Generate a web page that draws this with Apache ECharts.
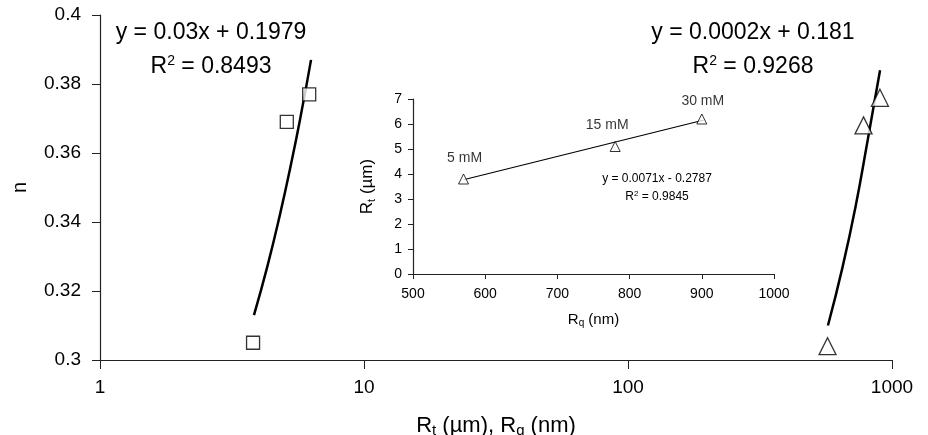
<!DOCTYPE html>
<html>
<head>
<meta charset="utf-8">
<script src="https://cdn.jsdelivr.net/npm/echarts@6/dist/echarts.min.js"></script>
<style>
  html, body { margin: 0; padding: 0; background: #fff; }
  #chart { width: 928px; height: 435px; }
</style>
</head>
<body>
<div id="chart"></div>
<script>
// measured points
const rtUm = [3.8, 5.1, 6.2];          // Rt (µm)
const rqNm = [570, 780, 900];          // Rq (nm)
const nRt = [0.305, 0.369, 0.377];     // n vs Rt
const nRq = [0.304, 0.368, 0.376];     // n vs Rq
const concLabels = ['5 mM', '15 mM', '30 mM'];

// trend lines
const fitRtX = [3.83, 4.3, 4.8, 5.3, 5.8, 6.3];
const fitRtY = [0.313, 0.327, 0.342, 0.357, 0.372, 0.387];
const fitRqX = [572, 650, 730, 810, 901];
const fitRqY = [0.310, 0.327, 0.345, 0.364, 0.384];
const insetFitX = [570, 903];
const insetFitY = [3.77, 6.16];

const mainYTicks = [0.3, 0.32, 0.34, 0.36, 0.38, 0.4];
const mainXTicks = [1, 10, 100, 1000];
const insetXTicks = [500, 600, 700, 800, 900, 1000];
const insetYTicks = [0, 1, 2, 3, 4, 5, 6, 7];

const FONT = 'Liberation Sans, Arial, sans-serif';

function zip(xs, ys) {
    return xs.map((x, i) => [x, ys[i]]);
}

const chart = echarts.init(document.getElementById('chart'));

const openSymbol = { color: '#fff', borderColor: '#000', borderWidth: 1.3 };
const axisLineStyle = { lineStyle: { color: '#222', width: 1.2 } };
const labelOffsets = [[1, -3], [-8, -4], [1, 0]];

// rich text for sub/superscripts
function richSet(size, small) {
    return {
        n: { fontSize: size, fontFamily: FONT, color: '#000', lineHeight: size + 2 },
        sub: { fontSize: small, fontFamily: FONT, color: '#000', verticalAlign: 'bottom', lineHeight: small },
        sup: { fontSize: small, fontFamily: FONT, color: '#000', verticalAlign: 'top', lineHeight: small }
    };
}

function eqText(x, y, text, size, small) {
    return {
        type: 'text',
        x: x,
        y: y,
        style: {
            text: text,
            align: 'center',
            verticalAlign: 'middle',
            fill: '#000',
            font: size + 'px ' + FONT,
            rich: richSet(size, small)
        }
    };
}

const option = {
    animation: false,
    backgroundColor: '#fff',
    grid: [
        { left: 100, right: 36, top: 15, bottom: 75, outerBoundsMode: 'none', containLabel: false },
        { left: 413, top: 99, width: 361, height: 175, outerBoundsMode: 'none', containLabel: false }
    ],
    xAxis: [
        {
            gridIndex: 0,
            type: 'log',
            logBase: 10,
            min: mainXTicks[0],
            max: mainXTicks[mainXTicks.length - 1],
            name: '{n|R}{sub|t}{n| (µm), R}{sub|q}{n| (nm)}',
            nameLocation: 'middle',
            nameGap: 54,
            nameTextStyle: { rich: richSet(22, 15) },
            axisLine: axisLineStyle,
            axisTick: { length: 9, lineStyle: { color: '#222' } },
            axisLabel: {
                fontSize: 19, fontFamily: FONT, color: '#000', margin: 18,
                formatter: v => String(v)
            },
            splitLine: { show: false },
            minorTick: { show: false }
        },
        {
            gridIndex: 1,
            type: 'value',
            min: insetXTicks[0],
            max: insetXTicks[insetXTicks.length - 1],
            interval: 100,
            name: '{n|R}{sub|q}{n| (nm)}',
            nameLocation: 'middle',
            nameGap: 37,
            nameTextStyle: { rich: richSet(15, 10) },
            axisLine: axisLineStyle,
            axisTick: { length: 5, lineStyle: { color: '#222' } },
            axisLabel: {
                fontSize: 14, fontFamily: FONT, color: '#000', margin: 13,
                formatter: v => String(v)
            },
            splitLine: { show: false }
        }
    ],
    yAxis: [
        {
            gridIndex: 0,
            type: 'value',
            min: mainYTicks[0],
            max: mainYTicks[mainYTicks.length - 1],
            interval: 0.02,
            name: 'n',
            nameLocation: 'middle',
            nameGap: 70,
            nameRotate: 90,
            nameTextStyle: { fontSize: 20, fontFamily: FONT, color: '#000' },
            axisLine: { show: true, lineStyle: { color: '#222', width: 1.2 } },
            axisTick: { show: true, length: 8, lineStyle: { color: '#222' } },
            axisLabel: {
                fontSize: 19, fontFamily: FONT, color: '#000', margin: 19,
                formatter: v => String(+v.toFixed(2))
            },
            splitLine: { show: false }
        },
        {
            gridIndex: 1,
            type: 'value',
            min: insetYTicks[0],
            max: insetYTicks[insetYTicks.length - 1],
            interval: 1,
            name: '{n|R}{sub|t}{n| (µm)}',
            nameLocation: 'middle',
            nameGap: 36,
            nameRotate: 90,
            nameTextStyle: { rich: richSet(17, 11) },
            axisLine: { show: true, lineStyle: { color: '#222', width: 1.2 } },
            axisTick: { show: true, length: 5, lineStyle: { color: '#222' } },
            axisLabel: { fontSize: 14, fontFamily: FONT, color: '#000', margin: 11 },
            splitLine: { show: false }
        }
    ],
    series: [
        {
            type: 'line',
            xAxisIndex: 0, yAxisIndex: 0,
            data: zip(fitRtX, fitRtY),
            showSymbol: false,
            smooth: true,
            lineStyle: { color: '#000', width: 2.5 }
        },
        {
            type: 'line',
            xAxisIndex: 0, yAxisIndex: 0,
            data: zip(fitRqX, fitRqY),
            showSymbol: false,
            smooth: true,
            lineStyle: { color: '#000', width: 2.5 }
        },
        {
            type: 'scatter',
            xAxisIndex: 0, yAxisIndex: 0,
            data: zip(rtUm, nRt),
            symbol: 'rect',
            symbolSize: 13,
            itemStyle: openSymbol,
            z: 3
        },
        {
            type: 'scatter',
            xAxisIndex: 0, yAxisIndex: 0,
            data: zip(rqNm, nRq),
            symbol: 'triangle',
            symbolSize: 17,
            itemStyle: openSymbol,
            z: 3
        },
        // inset
        {
            type: 'line',
            xAxisIndex: 1, yAxisIndex: 1,
            data: zip(insetFitX, insetFitY),
            showSymbol: false,
            lineStyle: { color: '#000', width: 1.2 }
        },
        {
            type: 'scatter',
            xAxisIndex: 1, yAxisIndex: 1,
            data: rqNm.map((x, i) => ({
                value: [x, rtUm[i]],
                label: { formatter: concLabels[i], offset: labelOffsets[i] }
            })),
            symbol: 'triangle',
            symbolSize: 10,
            itemStyle: { color: '#fff', borderColor: '#000', borderWidth: 1 },
            label: {
                show: true,
                position: 'top',
                distance: 5,
                fontSize: 14,
                fontFamily: FONT,
                color: '#000'
            },
            z: 3
        }
    ],
    graphic: [
        eqText(211, 33, '{n|y = 0.03x + 0.1979}', 23, 14),
        eqText(211, 67, '{n|R}{sup|2}{n| = 0.8493}', 23, 14),
        eqText(753, 33, '{n|y = 0.0002x + 0.181}', 23, 14),
        eqText(753, 67, '{n|R}{sup|2}{n| = 0.9268}', 23, 14),
        eqText(657, 179, '{n|y = 0.0071x - 0.2787}', 12, 8),
        eqText(657, 197, '{n|R}{sup|2}{n| = 0.9845}', 12, 8)
    ]
};

chart.setOption(option);
</script>
</body>
</html>
